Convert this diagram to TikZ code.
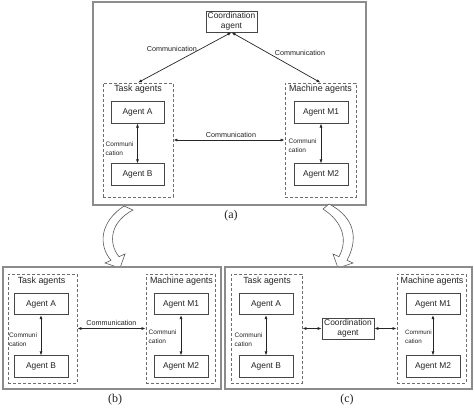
\documentclass[tikz,border=0pt]{standalone}
\usepackage{fontspec}
\setmainfont{Liberation Sans}
\newfontfamily\capfont{Liberation Serif}
\usetikzlibrary{arrows.meta}
\definecolor{framegray}{RGB}{140,140,140}
\definecolor{boxgray}{RGB}{70,70,70}
\definecolor{dashgray}{RGB}{110,110,110}
\definecolor{txt}{RGB}{35,35,35}
\tikzset{
  frame/.style={draw=framegray, line width=1.8pt, fill=white},
  grp/.style={draw=dashgray, line width=0.8pt, dash pattern=on 3pt off 2pt, rectangle, inner sep=0pt},
  agentbox/.style={draw=boxgray, line width=0.7pt, rectangle, inner sep=0pt, minimum width=54pt, minimum height=21.5pt, text=txt, font=\fontsize{8.4}{9.5}\selectfont},
  grplabel/.style={text=txt, inner sep=0pt, font=\fontsize{8.9}{10}\selectfont},
  commlabel/.style={text=txt, inner sep=0pt, font=\fontsize{7.2}{8}\selectfont},
  smalllabel/.style={text=txt, inner sep=0pt, align=left, anchor=west, font=\fontsize{6.5}{8.8}\selectfont},
  caplabel/.style={text=txt, inner sep=0pt, font=\capfont\fontsize{12}{13}\selectfont},
  arr/.style={{Latex[length=4pt,width=3pt]}-{Latex[length=4pt,width=3pt]}, line width=0.7pt, draw=black!85},
  bigarrow/.style={draw=black!65, line width=0.6pt, fill=white}
}
\begin{document}
\begin{tikzpicture}[x=1pt,y=-1pt]
\useasboundingbox (0,0) rectangle (474,408);
% ---------- panel (a)
\node[frame, rectangle, minimum width=273pt, minimum height=203pt, inner sep=0pt] (fa) at (229.5,103.5) {};
\node[agentbox, minimum width=51pt, minimum height=21pt, align=center] (coordA) at (231.5,21.5) {Coordination\\agent};
\node[grp, minimum width=70pt, minimum height=114pt] (taskA) at (138,140) {};
\node[grp, minimum width=71pt, minimum height=114pt] (machA) at (320.5,140) {};
\node[grplabel] (tlA) at (138,89.5) {Task agents};
\node[grplabel] (mlA) at (320.5,89.5) {Machine agents};
\node[agentbox, minimum width=53pt] (aA) at (137.5,112.5) {Agent A};
\node[agentbox, minimum width=53pt] (bA) at (137.5,174.5) {Agent B};
\node[agentbox] (m1A) at (321,112.5) {Agent M1};
\node[agentbox] (m2A) at (321,174.5) {Agent M2};
\draw[arr] (aA) -- (bA);
\draw[arr] (m1A) -- (m2A);
\draw[arr] (taskA.east) -- (machA.west);
\draw[arr] (coordA.south) -- (taskA.north);
\draw[arr] (coordA.south) -- (machA.north);
\node[commlabel] (cA1) at (172,49) {Communication};
\node[commlabel] (cA2) at (300,53) {Communication};
\node[commlabel] (cA3) at (231,134.5) {Communication};
\node[smalllabel] (sA1) at (105.5,148.5) {Communi\\cation};
\node[smalllabel] (sA2) at (288.5,145.5) {Communi\\cation};
\node[caplabel] (capA) at (231,216) {(a)};
% ---------- curved arrows
\draw[bigarrow] (124,206) .. controls (100,222) and (98,245) .. (111,260.3)
  -- (105,263) -- (120,268) -- (125,254) -- (119,256.7)
  .. controls (108,243) and (110,222) .. (133,210) -- cycle;
\draw[bigarrow] (329,204) .. controls (356,218) and (358,240) .. (347,260.3)
  -- (353,263) -- (338,268) -- (333,254) -- (339,256.7)
  .. controls (348,240) and (343,222) .. (323,209) -- cycle;
% ---------- panel (b)
\node[frame, rectangle, minimum width=218pt, minimum height=122pt, inner sep=0pt] (fb) at (112,328) {};
\node[grp, minimum width=69pt, minimum height=109pt] (taskB) at (42.5,328.5) {};
\node[grp, minimum width=69pt, minimum height=109pt] (machB) at (180.5,328.5) {};
\node[grplabel] (tlB) at (41.5,281) {Task agents};
\node[grplabel] (mlB) at (181.5,281) {Machine agents};
\node[agentbox] (aB) at (41,304) {Agent A};
\node[agentbox] (bB) at (41,366.5) {Agent B};
\node[agentbox] (m1B) at (181,304) {Agent M1};
\node[agentbox] (m2B) at (181,366.5) {Agent M2};
\draw[arr] (aB) -- (bB);
\draw[arr] (m1B) -- (m2B);
\draw[arr] (taskB.east) -- (machB.west);
\node[commlabel] (cB) at (111.5,323) {Communication};
\node[smalllabel] (sB1) at (9,340) {Communi\\cation};
\node[smalllabel] (sB2) at (148.5,337) {Communi\\cation};
\node[caplabel] (capB) at (115,400) {(b)};
% ---------- panel (c)
\node[frame, rectangle, minimum width=247pt, minimum height=122pt, inner sep=0pt] (fc) at (348.5,328) {};
\node[grp, minimum width=71pt, minimum height=109pt] (taskC) at (266.5,328.5) {};
\node[grp, minimum width=69pt, minimum height=109pt] (machC) at (431.5,328.5) {};
\node[grplabel] (tlC) at (267,281) {Task agents};
\node[grplabel] (mlC) at (432,281) {Machine agents};
\node[agentbox] (aC) at (266,304) {Agent A};
\node[agentbox] (bC) at (266,366.5) {Agent B};
\node[agentbox, minimum width=52pt, minimum height=21pt, align=center] (coordC) at (348,328.5) {Coordination\\agent};
\node[agentbox] (m1C) at (433,304) {Agent M1};
\node[agentbox] (m2C) at (433,366.5) {Agent M2};
\draw[arr] (aC) -- (bC);
\draw[arr] (m1C) -- (m2C);
\draw[arr] (taskC.east) -- (coordC.west);
\draw[arr] (coordC.east) -- (machC.west);
\node[smalllabel] (sC1) at (234.5,340) {Communi\\cation};
\node[smalllabel, font=\fontsize{6.2}{8.8}\selectfont] (sC2) at (405,337) {Communi\\cation};
\node[caplabel] (capC) at (347,400) {(c)};
\end{tikzpicture}
\end{document}
